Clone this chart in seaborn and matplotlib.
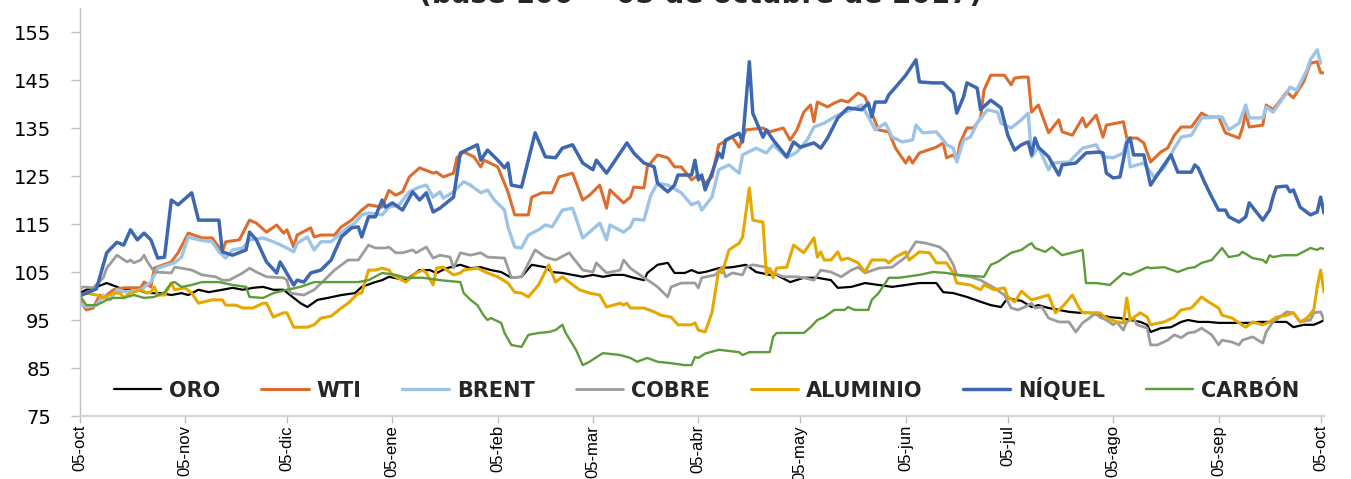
import matplotlib
matplotlib.use("Agg")
import matplotlib.pyplot as plt
from matplotlib import font_manager
import seaborn as sns
import pandas as pd

# Índices base 100 = 05-oct-2017; cada punto es (días desde el inicio, índice)
INICIO = "2017-10-05"

ORO = [(0,100.6),(2,101.3),(5,101.9),(8,102.7),(11,101.9),(13,101.3),(16,101.7),(19,100.8),(21,100.6),(24,100.6),(27,100.2),(30,100.6),(32,100.2),(35,101.3),(38,100.8),(42,101.3),(45,101.7),(48,101.3),(51,101.7),(54,101.9),(57,101.3),(60,101.3),(63,99.6),(65,98.5),(67,97.7),(70,99.2),(73,99.6),(77,100.2),(81,100.6),(83,101.9),(87,102.9),(89,103.3),(91,104),(96,103.3),(100,105.4),(103,105.4),(105,104.8),(108,105.8),(112,106.5),(115,105.8),(118,106),(121,105.4),(124,105),(127,103.8),(130,104),(133,106.5),(137,106),(139,105),(142,104.8),(145,104.4),(148,104),(151,104.4),(154,104),(157,104.4),(160,104.4),(163,103.8),(166,103.3),(167,104.8),(170,106.5),(173,106.9),(175,104.8),(178,104.8),(180,105.4),(182,104.8),(184,105),(188,105.8),(192,106),(196,106.5),(199,105),(203,104.4),(205,104.4),(209,102.9),(213,103.8),(217,103.8),(221,103.3),(223,101.7),(227,101.9),(231,102.7),(235,102.3),(239,101.9),(243,102.3),(247,102.7),(252,102.7),(254,100.8),(257,100.6),(261,99.8),(265,98.8),(268,98.1),(271,97.7),(273,99.6),(275,99.2),(277,99),(280,97.7),(282,98.1),(285,97.5),(288,97.1),(291,96.7),(294,96.5),(297,96.5),(300,96),(303,95.6),(306,95.4),(309,95),(312,94.6),(314,94),(315,92.5),(318,93.3),(321,93.5),(324,94.6),(326,95),(329,94.6),(332,94.6),(335,94.4),(338,94.4),(341,94.4),(344,94.4),(347,94.6),(351,94.6),(355,94.6),(357,93.5),(360,94),(363,94),(365,94.6),(366,95)]

WTI = [(0,99.2),(2,97.1),(4,97.5),(6,100.2),(7,99.6),(10,101.3),(13,101.7),(18,101.7),(19,102.9),(21,101.9),(22,105.8),(27,107.1),(29,109),(32,113.1),(36,112.1),(39,112.1),(42,109.2),(43,111.3),(47,111.7),(50,115.8),(52,115.2),(55,113.3),(58,114.8),(60,113.1),(61,113.8),(63,110.2),(64,112.7),(68,114.2),(69,112.3),(71,112.7),(75,112.7),(77,114.4),(80,115.8),(83,117.9),(85,119),(89,118.5),(91,122),(93,121),(95,121.7),(97,124.8),(100,126.7),(104,125.6),(105,125.8),(107,124.8),(110,125.6),(111,128.8),(113,130),(116,129),(118,126.9),(119,128.3),(123,126.9),(126,121.7),(128,116.9),(132,116.9),(133,120.6),(136,121.5),(139,121.5),(141,124.8),(145,125.6),(148,120),(150,121),(153,123.1),(155,118.3),(156,122.1),(160,119.4),(162,120.6),(163,122.7),(166,122.5),(167,126.9),(170,129.4),(173,128.8),(175,126.9),(177,126.9),(180,124.2),(182,125.2),(184,123.5),(186,124.8),(188,131.5),(192,133.1),(194,131),(196,134.6),(201,135),(203,134.2),(205,134.6),(207,135),(209,132.5),(211,134.6),(213,138.3),(215,139.8),(216,136.3),(217,140.4),(220,139.4),(222,140.2),(224,140.8),(226,140.4),(229,142.3),(231,141.5),(233,138.1),(235,134.6),(238,134.2),(240,130.8),(243,127.7),(244,129),(245,127.7),(247,129.8),(252,131),(254,131.9),(255,128.8),(257,129.4),(258,128.3),(259,131.9),(261,135),(263,135),(265,137.1),(266,142.9),(268,146),(272,146),(274,144),(275,145.4),(277,145.6),(279,145.6),(280,138.3),(282,139.8),(285,134),(288,136.7),(289,134.2),(292,133.5),(295,137.1),(296,135.2),(299,137.7),(301,133.1),(302,135.6),(307,136.3),(308,132.9),(311,132.9),(313,131.9),(315,127.9),(318,130),(320,130.8),(322,133.5),(324,135.2),(327,135.2),(330,138.1),(332,137.3),(335,137.3),(337,134),(341,132.9),(342,135),(343,138.3),(344,135.2),(348,135.6),(349,139.8),(351,138.8),(354,141.5),(355,142.5),(357,141.3),(360,144.6),(362,148.5),(364,148.8),(365,146.5),(366,146.5)]

BRENT = [(0,98.5),(2,97.7),(5,98.1),(7,100.2),(9,99.2),(11,101.3),(14,100.8),(18,101.3),(21,102.9),(23,105.8),(26,106.5),(28,106.9),(30,108.1),(32,112.3),(35,111.7),(39,111.3),(41,109.2),(43,107.9),(45,109.6),(48,110),(50,111.7),(54,112.1),(57,111.3),(58,111),(61,110),(63,109.2),(64,111),(67,112.3),(69,109.6),(71,111.3),(74,111.3),(78,113.8),(81,115.2),(83,116.9),(85,117.3),(89,116.9),(91,118.5),(94,119),(97,121.7),(100,122.7),(102,123.1),(104,120.6),(106,121.7),(107,120.4),(110,121.7),(113,123.8),(115,123.1),(118,121.5),(120,122.1),(122,120),(125,117.9),(126,114.4),(128,110.2),(130,110),(132,112.7),(135,113.8),(137,114.8),(139,114.4),(142,117.9),(145,118.3),(148,112.1),(150,113.3),(153,115.2),(155,111.7),(156,114.8),(160,113.3),(162,114.4),(163,116),(166,115.8),(168,121),(170,123.5),(173,123.1),(177,121.5),(180,119),(182,119.6),(183,117.9),(186,120.6),(188,126.3),(191,127.3),(194,125.6),(195,129.4),(199,130.8),(202,129.8),(204,131.5),(208,128.8),(211,130),(214,132.5),(216,135.2),(219,136),(223,137.7),(227,138.8),(230,139.8),(232,137.3),(234,134.6),(237,136),(239,133.1),(242,132.1),(245,132.5),(246,135.6),(248,134),(252,134.2),(254,132.5),(255,131.5),(257,130.8),(258,127.9),(260,132.5),(262,133.1),(264,136),(267,138.8),(270,138.3),(271,136),(274,135),(277,136.7),(279,138.1),(280,129),(282,131),(285,126.3),(286,127.7),(291,127.9),(295,130.8),(299,131.5),(301,129),(304,128.8),(307,129.8),(308,132.5),(309,126.9),(313,127.7),(316,124.8),(319,126.7),(322,130.8),(324,133.1),(327,133.5),(330,137.1),(336,137.3),(338,134.6),(341,136),(343,139.8),(344,137.1),(348,137.1),(349,139.4),(351,138.3),(355,142.3),(356,143.5),(358,142.9),(361,147.1),(362,149.2),(364,151.3),(365,148.5)]

COBRE = [(0,101.3),(1,101.9),(4,101.7),(7,103.8),(8,105.8),(11,108.5),(14,107.1),(15,107.5),(16,106.9),(18,107.5),(19,108.5),(20,107.1),(22,105),(27,104.8),(28,106),(30,105.8),(33,105.4),(36,104.4),(40,104),(42,103.3),(44,103.3),(48,104.8),(50,105.8),(52,105),(55,104),(60,103.8),(61,103.3),(62,100.6),(66,100.2),(69,101.3),(72,103.3),(75,105.4),(79,107.5),(82,107.5),(85,110.6),(87,110),(90,110),(91,110.2),(93,109),(95,109),(98,109.6),(99,109),(102,110.2),(104,107.9),(106,108.5),(109,108.1),(110,105.8),(112,109),(115,108.5),(118,109),(120,108.1),(125,107.9),(127,103.8),(130,104),(134,109.6),(137,108.1),(140,107.5),(144,109),(148,105.4),(151,105),(152,106.9),(155,104.8),(159,105.4),(160,107.5),(162,105.8),(166,103.8),(168,102.9),(170,101.9),(173,99.8),(174,101.9),(177,102.7),(181,102.7),(182,101.7),(183,103.8),(187,104.4),(189,106),(190,104),(192,104.8),(195,104.4),(196,106),(198,106.5),(202,106),(204,104.8),(207,104),(211,104),(213,103.8),(216,103.3),(218,105.4),(221,105),(224,104),(227,105.4),(229,106),(231,104.8),(235,105.8),(239,106),(243,108.1),(246,111.3),(249,111),(253,110.2),(255,109),(257,106.5),(258,104.4),(262,104),(265,103.3),(269,101.7),(272,100.2),(274,97.5),(276,97.1),(278,97.7),(280,98.5),(281,97.5),(283,97.7),(285,95.4),(288,94.6),(291,94.6),(293,92.5),(295,94.4),(297,95.4),(299,96.5),(300,95.6),(302,95),(304,94),(305,94.6),(307,92.9),(308,94.6),(310,95.4),(311,94),(314,93.3),(315,89.8),(317,89.8),(320,90.8),(322,91.9),(324,91.3),(326,92.3),(328,92.5),(330,93.3),(333,91.9),(335,89.8),(336,90.8),(339,90.4),(341,89.8),(342,90.8),(345,91.5),(348,90.2),(349,92.5),(351,94.6),(353,95.6),(355,96.7),(357,96.5),(359,94.6),(362,95),(363,96.5),(365,96.7),(366,95)]

ALUMINIO = [(0,100.2),(2,100.6),(5,100.2),(7,99.6),(10,100.6),(12,100.6),(13,99.6),(15,100.6),(18,101.3),(20,100.6),(21,100.8),(22,101.9),(23,100.2),(25,100.2),(27,102.7),(28,101.3),(31,101.7),(33,100.6),(35,98.5),(39,99.2),(42,99.2),(43,98.1),(46,98.1),(48,97.5),(51,97.5),(54,98.5),(55,98.5),(57,95.6),(60,96.5),(61,96.5),(63,93.5),(67,93.5),(69,94),(71,95.4),(74,95.8),(77,97.5),(79,98.5),(82,100.6),(83,100.6),(85,105.4),(87,105.4),(89,105.8),(91,105.4),(92,104.4),(93,104),(96,102.9),(99,104.8),(101,105.4),(102,104.8),(104,102.3),(105,105.8),(107,106),(108,105.4),(110,104.4),(112,104.8),(113,105.4),(117,105.8),(120,104.8),(123,104),(126,102.7),(128,100.8),(130,100.6),(132,99.8),(135,102.3),(138,106.5),(140,102.9),(142,104),(144,102.9),(147,101.3),(150,100.6),(153,100.2),(155,97.7),(159,98.5),(160,98.1),(161,98.5),(162,97.5),(166,97.5),(169,96.7),(171,96),(174,95.6),(176,94),(180,94),(181,94.4),(182,92.9),(184,92.5),(186,96.5),(188,105.4),(189,104.8),(191,109.6),(194,111),(195,112.3),(197,122.5),(198,115.8),(201,115.4),(202,104.4),(203,105.8),(204,103.8),(205,105.8),(208,106),(210,110.6),(213,109),(216,112.1),(217,108.1),(218,109.2),(219,107.5),(221,107.5),(223,109.2),(224,107.5),(226,107.9),(229,106.9),(231,105),(233,107.5),(237,107.5),(238,106.9),(240,108.1),(243,109.2),(244,107.5),(247,109.2),(250,109),(252,106.9),(255,106.9),(257,104.8),(258,102.7),(262,102.3),(265,101.3),(266,102.3),(269,101.3),(272,101.7),(273,99.8),(275,98.8),(276,99.8),(277,101),(280,99.2),(282,99.6),(285,100.2),(287,96.5),(289,97.7),(292,100.2),(294,97.5),(295,96.5),(300,96.5),(302,95.4),(305,94.6),(307,94.4),(308,99.6),(309,95),(312,96.5),(314,95.6),(315,94),(319,94.6),(322,95.6),(324,97.1),(327,97.5),(330,99.8),(332,98.8),(335,97.5),(336,96),(339,95.4),(341,94.4),(343,93.5),(345,94.6),(348,94),(350,94.6),(352,95.6),(355,96),(357,96.5),(359,94.6),(361,95.4),(363,97.1),(364,101.9),(365,105.4),(366,100.8)]

NIQUEL = [(0,100),(5,101.5),(8,109),(11,111.2),(13,110.6),(15,113.8),(17,111.7),(19,113.1),(21,111.7),(23,107.9),(25,108.1),(27,120),(29,119),(33,121.5),(35,115.8),(41,115.8),(42,109.2),(45,108.5),(49,109.6),(50,113.3),(52,111.7),(55,107.1),(58,104.8),(59,107.1),(63,102.3),(64,103.3),(66,102.9),(68,104.8),(71,105.4),(74,107.5),(77,112.3),(80,114.2),(82,114.4),(83,112.3),(85,116.5),(87,116.5),(89,120),(90,118.5),(92,119.4),(95,117.9),(98,121.7),(100,120),(102,121.5),(104,117.5),(106,118.3),(110,120.6),(112,129.8),(117,131.5),(118,128.3),(120,130.4),(123,128.3),(125,126.7),(126,127.7),(127,123.1),(130,122.7),(134,134),(137,129),(140,128.8),(142,130.8),(145,131.5),(148,127.7),(151,126.3),(152,128.3),(155,125.6),(161,131.9),(163,129.8),(166,127.7),(169,126.9),(170,123.5),(173,121.7),(175,123.1),(176,125.2),(180,125.2),(181,128.3),(182,124.2),(183,125.2),(184,122.1),(186,125.6),(188,129.8),(189,128.8),(190,132.5),(194,133.9),(195,132.1),(197,148.8),(198,138.1),(201,133.1),(202,134.6),(204,132.5),(208,129),(210,132.1),(212,131),(216,131.9),(218,130.8),(220,132.9),(223,137.1),(226,139.2),(230,138.8),(232,140.2),(233,137.3),(234,140.4),(237,140.4),(238,141.9),(240,143.5),(243,146),(246,149.2),(247,144.6),(251,144.4),(254,144.4),(257,142.3),(258,138.1),(260,141.5),(261,144.4),(264,143.3),(265,138.8),(268,140.8),(271,139.2),(273,133.5),(275,130.4),(277,131.5),(279,132.1),(280,129.4),(281,132.9),(282,131),(285,129),(288,125.2),(289,127.3),(293,127.7),(296,129.8),(300,130),(301,129.8),(302,125.6),(304,124.6),(306,124.8),(308,131.9),(309,132.9),(310,129.4),(313,129.4),(315,123.1),(318,126.3),(321,129.4),(323,125.8),(327,125.8),(328,127.3),(329,126.7),(331,123.5),(333,120.6),(335,117.9),(337,117.9),(338,116.5),(341,115.4),(343,116.5),(344,119.4),(348,115.8),(350,117.9),(351,120.6),(352,122.7),(355,122.9),(356,121.7),(357,122.1),(359,118.5),(362,116.9),(364,117.5),(365,120.6),(366,117.3)]

CARBON = [(0,100.2),(2,98.1),(5,98.1),(7,98.8),(8,99.2),(10,99.6),(13,99.6),(16,100.2),(19,99.6),(22,99.8),(25,100.8),(27,102.7),(28,102.9),(30,101.9),(33,102.3),(36,102.9),(41,102.9),(45,102.3),(49,101.9),(50,99.8),(54,99.6),(57,100.6),(61,101.3),(65,101.9),(69,102.9),(75,102.9),(82,102.9),(85,103.3),(89,104.8),(91,104.6),(93,104.4),(96,103.8),(101,103.8),(106,103.3),(112,102.9),(113,100.6),(115,99.2),(117,98.1),(119,95.8),(120,95),(121,95.4),(124,94.4),(125,92.3),(127,89.8),(130,89.4),(132,91.9),(135,92.3),(138,92.5),(140,92.9),(142,94),(143,92.3),(146,88.8),(148,85.6),(150,86.3),(153,87.7),(154,88.1),(159,87.7),(162,87.1),(164,86.3),(167,87.1),(170,86.3),(174,86),(178,85.6),(180,85.6),(181,87.3),(182,87.1),(184,88),(188,88.8),(194,88.3),(195,87.7),(197,88.3),(203,88.3),(204,91.5),(205,92.3),(209,92.3),(213,92.3),(215,93.5),(217,95),(219,95.6),(222,97.1),(225,97.1),(226,97.7),(228,97.1),(232,97.1),(233,99.2),(235,100.6),(237,102.7),(238,103.8),(241,103.8),(243,104),(247,104.4),(251,105),(255,104.8),(258,104.4),(262,104.2),(266,104),(268,106.5),(270,107.1),(274,109),(277,109.6),(279,110.6),(280,111),(281,110),(284,109.2),(286,110.2),(289,108.5),(295,109.6),(296,102.7),(299,102.7),(303,102.3),(307,104.8),(309,104.4),(314,106),(315,105.8),(319,106),(323,105),(326,105.8),(328,106),(330,106.9),(333,107.5),(336,110),(338,108.1),(341,108.5),(342,109.2),(345,107.9),(348,107.5),(349,106.9),(350,108.5),(351,108.1),(354,108.5),(358,108.5),(361,109.6),(362,110),(364,109.6),(365,110),(366,109.8)]

SERIES = [("ORO", ORO), ("WTI", WTI), ("BRENT", BRENT), ("COBRE", COBRE),
          ("ALUMINIO", ALUMINIO), ("NÍQUEL", NIQUEL), ("CARBÓN", CARBON)]

COLORES = {"ORO": "#000000", "WTI": "#DC6D2C", "BRENT": "#9DC3E6",
           "COBRE": "#9C9C9C", "ALUMINIO": "#E6A800", "NÍQUEL": "#3D67B1",
           "CARBÓN": "#5E9C3A"}
GROSOR = {"ORO": 1.6, "WTI": 2.2, "BRENT": 2.4, "COBRE": 2.0,
          "ALUMINIO": 2.2, "NÍQUEL": 2.5, "CARBÓN": 1.7}

FECHAS_MESES = ["2017-10-05", "2017-11-05", "2017-12-05", "2018-01-05",
                "2018-02-05", "2018-03-05", "2018-04-05", "2018-05-05",
                "2018-06-05", "2018-07-05", "2018-08-05", "2018-09-05",
                "2018-10-05"]
MESES = ["05-oct", "05-nov", "05-dic", "05-ene", "05-feb", "05-mar", "05-abr",
         "05-may", "05-jun", "05-jul", "05-ago", "05-sep", "05-oct"]
Y_TICKS = [75, 85, 95, 105, 115, 125, 135, 145, 155]

TITULO = "(base 100 = 05 de octubre de 2017)"

sns.set_theme(style="white")
plt.rcParams["font.family"] = ["DejaVu Sans"]

inicio = pd.Timestamp(INICIO)
tablas = []
for nombre, puntos in SERIES:
    t = pd.DataFrame(puntos, columns=["dia", "indice"])
    t["fecha"] = inicio + pd.to_timedelta(t["dia"], unit="D")
    t["serie"] = nombre
    tablas.append(t)
datos = pd.concat(tablas, ignore_index=True)

fig = plt.figure(figsize=(13.51, 4.79), dpi=100)
ax = fig.add_axes([79.5 / 1351, 1 - 416 / 479, (1324 - 79.5) / 1351, 408 / 479])

for nombre, _ in SERIES:
    sns.lineplot(data=datos[datos["serie"] == nombre], x="fecha", y="indice",
                 color=COLORES[nombre], linewidth=GROSOR[nombre], ax=ax,
                 label=nombre, solid_joinstyle="round", solid_capstyle="round")

ax.set_ylim(75, 160)
ax.set_yticks(Y_TICKS)
ax.set_xlim(inicio, inicio + pd.Timedelta(days=366))
ax.set_xticks(pd.to_datetime(FECHAS_MESES))
ax.set_xticklabels(MESES, rotation=90)
ax.set_xlabel("")
ax.set_ylabel("")

for lado in ("top", "right"):
    ax.spines[lado].set_visible(False)
ax.spines["left"].set_color("#BFBFBF")
ax.spines["left"].set_linewidth(1.0)
ax.spines["bottom"].set_color("#D4D4D4")
ax.spines["bottom"].set_linewidth(1.6)

ax.tick_params(axis="y", left=True, direction="out", length=6.5, width=1,
               color="#BFBFBF", pad=14, labelsize=14, labelcolor="black")
ax.tick_params(axis="x", bottom=True, direction="out", length=5, width=1,
               color="#BFBFBF", pad=1.5, labelcolor="black")

nombres_fuentes = {f.name for f in font_manager.fontManager.ttflist}
if "Liberation Sans Narrow" in nombres_fuentes:
    fuente_x, tam_x = "Liberation Sans Narrow", 14.5
else:
    fuente_x, tam_x = "Liberation Sans", 12
for etiqueta in ax.get_xticklabels():
    etiqueta.set_fontfamily([fuente_x, "DejaVu Sans"])
    etiqueta.set_fontsize(tam_x)

handles, labels = ax.get_legend_handles_labels()
ax.legend(handles, labels, ncol=7, loc="center", bbox_to_anchor=(0.504, 0.066),
          frameon=False, prop={"weight": "bold", "size": 15},
          handlelength=2.26, handletextpad=0.38, columnspacing=1.96)

fig.text(701 / 1351, 1 - 2.5 / 479, TITULO, ha="center", va="baseline",
         fontsize=20, fontweight="bold")

fig.savefig("out.png", dpi=100)
